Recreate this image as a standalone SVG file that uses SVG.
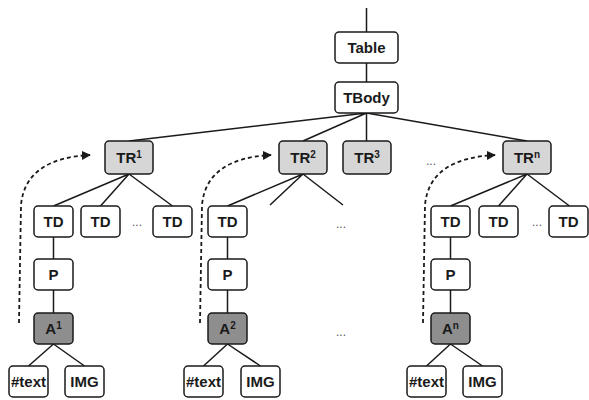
<svg xmlns="http://www.w3.org/2000/svg" width="589" height="400" viewBox="0 0 589 400">
  <style>
    .box { stroke: #1a1a1a; stroke-width: 1.5; fill: #ffffff; }
    .row { fill: #d6d6d6; }
    .anchor { fill: #8e8e8e; }
    .lbl { font-family: "Liberation Sans", Arial, sans-serif; font-size: 15px; font-weight: bold; fill: #1a1a1a; text-anchor: middle; }
    .sup { font-size: 10px; }
    .edge { stroke: #1a1a1a; stroke-width: 1.5; fill: none; }
    .jump { stroke: #1a1a1a; stroke-width: 1.8; fill: none; stroke-dasharray: 4 3; }
    .more { font-family: "Liberation Sans", Arial, sans-serif; font-size: 12px; fill: #555555; text-anchor: middle; }
  </style>
  <defs>
    <marker id="arrow" viewBox="0 0 10 10" refX="9" refY="5" markerWidth="9" markerHeight="9" orient="auto" markerUnits="userSpaceOnUse">
      <path d="M0,0 L10,5 L0,10 Z" fill="#1a1a1a"/>
    </marker>
  </defs>
  <rect width="589" height="400" fill="#ffffff"/>

  <!-- tree edges and traversal arrows -->
  <g id="connectors">
    <path class="edge" d="M366.5,8 V32 M366.5,63 V82"/>
    <path class="edge" d="M366.5,113 L129,141 M366.5,113 L303,141 M366.5,113 V141 M366.5,113 L527,141"/>
    <path class="edge" d="M129,174 L53.5,206 M129,174 L100.5,206 M129,174 L172.5,206"/>
    <path class="edge" d="M303,174 L227.5,206 M303,174 L270,205 M303,174 L343,205"/>
    <path class="edge" d="M527,174 L450.5,206 M527,174 L498.5,206 M527,174 L569.5,206"/>
    <path class="edge" d="M53.5,237 V259 M53.5,290 V313 M227.5,237 V259 M227.5,290 V313 M450.5,237 V259 M450.5,290 V313"/>
    <path class="edge" d="M53.5,344 L28.5,366 M53.5,344 L84.5,366 M227.5,344 L203.5,366 M227.5,344 L260.5,366 M450.5,344 L426.5,366 M450.5,344 L482.5,366"/>
    <path class="jump" marker-end="url(#arrow)" d="M19,323 L21,205 C24,172 50,157 90,155"/>
    <path class="jump" marker-end="url(#arrow)" d="M200,323 L202,205 C205,172 231,157 271,155"/>
    <path class="jump" marker-end="url(#arrow)" d="M423,323 L425,205 C428,172 454,157 495,155"/>
  </g>

  <g id="table"><rect class="box" x="335" y="32" width="63" height="31" rx="4"/><text class="lbl" x="366.5" y="53">Table</text></g>
  <g id="tbody"><rect class="box" x="335" y="82" width="63" height="31" rx="4"/><text class="lbl" x="366.5" y="103">TBody</text></g>

  <g id="tr1"><rect class="box row" x="105" y="141" width="48" height="33" rx="4"/><text class="lbl" x="129" y="163">TR<tspan class="sup" dy="-5">1</tspan></text></g>
  <g id="tr2"><rect class="box row" x="279" y="141" width="48" height="33" rx="4"/><text class="lbl" x="303" y="163">TR<tspan class="sup" dy="-5">2</tspan></text></g>
  <g id="tr3"><rect class="box row" x="343" y="141" width="48" height="33" rx="4"/><text class="lbl" x="367" y="163">TR<tspan class="sup" dy="-5">3</tspan></text></g>
  <g id="trn"><rect class="box row" x="503" y="141" width="48" height="33" rx="4"/><text class="lbl" x="527" y="163">TR<tspan class="sup" dy="-5">n</tspan></text></g>

  <g id="td1a"><rect class="box" x="34" y="206" width="39" height="31" rx="4"/><text class="lbl" x="53.5" y="227">TD</text></g>
  <g id="td1b"><rect class="box" x="81" y="206" width="39" height="31" rx="4"/><text class="lbl" x="100.5" y="227">TD</text></g>
  <g id="td1c"><rect class="box" x="153" y="206" width="39" height="31" rx="4"/><text class="lbl" x="172.5" y="227">TD</text></g>
  <g id="td2a"><rect class="box" x="208" y="206" width="39" height="31" rx="4"/><text class="lbl" x="227.5" y="227">TD</text></g>
  <g id="tdna"><rect class="box" x="431" y="206" width="39" height="31" rx="4"/><text class="lbl" x="450.5" y="227">TD</text></g>
  <g id="tdnb"><rect class="box" x="479" y="206" width="39" height="31" rx="4"/><text class="lbl" x="498.5" y="227">TD</text></g>
  <g id="tdnc"><rect class="box" x="549" y="206" width="39" height="31" rx="4"/><text class="lbl" x="568.5" y="227">TD</text></g>

  <g id="p1"><rect class="box" x="34" y="259" width="39" height="31" rx="4"/><text class="lbl" x="53.5" y="280">P</text></g>
  <g id="p2"><rect class="box" x="208" y="259" width="39" height="31" rx="4"/><text class="lbl" x="227.5" y="280">P</text></g>
  <g id="pn"><rect class="box" x="431" y="259" width="39" height="31" rx="4"/><text class="lbl" x="450.5" y="280">P</text></g>

  <g id="a1"><rect class="box anchor" x="34" y="313" width="39" height="31" rx="4"/><text class="lbl" x="53.5" y="334">A<tspan class="sup" dy="-5">1</tspan></text></g>
  <g id="a2"><rect class="box anchor" x="208" y="313" width="39" height="31" rx="4"/><text class="lbl" x="227.5" y="334">A<tspan class="sup" dy="-5">2</tspan></text></g>
  <g id="an"><rect class="box anchor" x="431" y="313" width="39" height="31" rx="4"/><text class="lbl" x="450.5" y="334">A<tspan class="sup" dy="-5">n</tspan></text></g>

  <g id="text1"><rect class="box" x="9" y="366" width="39" height="31" rx="4"/><text class="lbl" x="28.5" y="387">#text</text></g>
  <g id="img1"><rect class="box" x="65" y="366" width="39" height="31" rx="4"/><text class="lbl" x="84.5" y="387">IMG</text></g>
  <g id="text2"><rect class="box" x="184" y="366" width="39" height="31" rx="4"/><text class="lbl" x="203.5" y="387">#text</text></g>
  <g id="img2"><rect class="box" x="241" y="366" width="39" height="31" rx="4"/><text class="lbl" x="260.5" y="387">IMG</text></g>
  <g id="textn"><rect class="box" x="407" y="366" width="39" height="31" rx="4"/><text class="lbl" x="426.5" y="387">#text</text></g>
  <g id="imgn"><rect class="box" x="463" y="366" width="39" height="31" rx="4"/><text class="lbl" x="482.5" y="387">IMG</text></g>

  <!-- elided siblings -->
  <g id="ellipses">
    <text class="more" x="137" y="226">...</text>
    <text class="more" x="341" y="228">...</text>
    <text class="more" x="537" y="226">...</text>
    <text class="more" x="431" y="165">...</text>
    <text class="more" x="341" y="336">...</text>
  </g>
</svg>
